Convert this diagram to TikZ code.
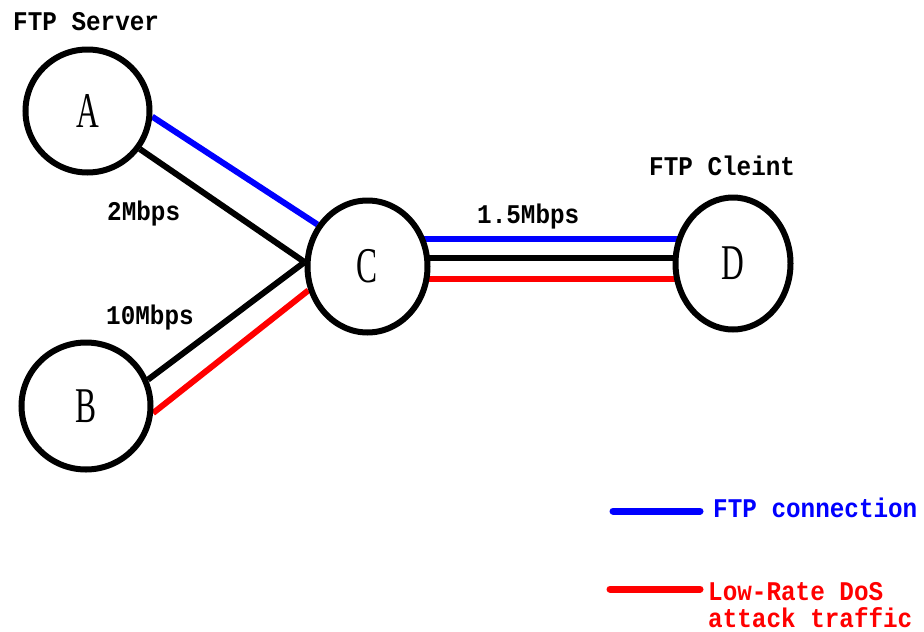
\documentclass[tikz,border=0pt]{standalone}
\usepackage{fontspec}
\usetikzlibrary{shapes.geometric,backgrounds}
\newfontfamily\labfont[FakeStretch=0.9]{Liberation Mono}
\newfontfamily\letfont[FakeStretch=0.63]{Liberation Serif}
\begin{document}
\begin{tikzpicture}[x=1pt,y=-1pt,
  station/.style={ellipse, draw, line width=6pt, fill=white, inner sep=0pt,
    font=\letfont\fontsize{50}{50}\selectfont},
  link/.style={line width=6pt},
  legline/.style={line width=7pt, line cap=round},
  lab/.style={anchor=base west, inner sep=0pt,
    font=\labfont\bfseries\fontsize{27}{27}\selectfont}]
\useasboundingbox (0,0) rectangle (924,632);

\node[station, minimum width=124pt, minimum height=123pt] (A) at (87.5,111) {A};
\node[station, minimum width=129pt, minimum height=127pt] (B) at (86,406) {B};
\node[station, minimum width=120pt, minimum height=132pt] (C) at (367.5,266.5) {C};
\node[station, minimum width=115pt, minimum height=132pt] (D) at (733,263.5) {D};

\begin{scope}[on background layer]
\draw[link, blue] (A.-5) -- (C.140);
\draw[link] (A.-36) -- (C.176);
\draw[link] (B.23) -- (C.176);
\draw[link, red] (B.-6) -- (C.202);
\draw[link, blue] ([yshift=27.5pt]C.center) -- ([yshift=24.5pt]D.center);
\draw[link] ([yshift=8.5pt]C.center) -- ([yshift=5.5pt]D.center);
\draw[link, red] ([yshift=-12.5pt]C.center) -- ([yshift=-15.5pt]D.center);
\end{scope}

\node[lab] (server) at (13,30.5) {FTP Server};
\node[lab] (client) at (649,175) {FTP Cleint};
\node[lab] (bwA) at (107,220) {2Mbps};
\node[lab] (bwB) at (106,324) {10Mbps};
\node[lab] (bwC) at (477,223) {1.5Mbps};

\coordinate (lb1) at (613,511);
\coordinate (lb2) at (700,511);
\coordinate (lr1) at (610,589);
\coordinate (lr2) at (700,589);
\draw[legline, blue] (lb1) -- (lb2);
\draw[legline, red] (lr1) -- (lr2);
\node[lab, text=blue] (ftpconn) at (713,517) {FTP connection};
\node[lab, text=red] (dos1) at (708,600) {Low-Rate DoS};
\node[lab, text=red] (dos2) at (708,627) {attack traffic};
\end{tikzpicture}
\end{document}
